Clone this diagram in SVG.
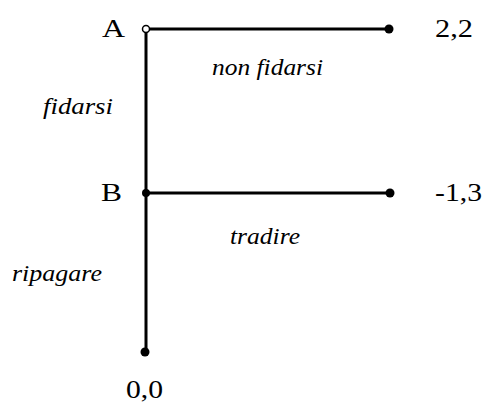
<svg xmlns="http://www.w3.org/2000/svg" width="486" height="405" viewBox="0 0 486 405">
<style>
text{font-family:"Liberation Serif","DejaVu Serif",serif;fill:#000}
.lbl{font-size:26px}
.mv{font-size:24px;font-style:italic}
.e{stroke:#000;stroke-width:3;fill:none}
</style>
<rect width="486" height="405" fill="#fff"/>
<g id="connectors">
<line class="e" x1="146" y1="29" x2="146" y2="352"/>
<line class="e" x1="146" y1="29" x2="389" y2="29"/>
<line class="e" x1="146" y1="193" x2="390" y2="193" stroke-width="2.5"/>
<text class="mv" font-family="Liberation Serif, DejaVu Serif, serif" x="212" y="75" textLength="111" lengthAdjust="spacingAndGlyphs">non fidarsi</text>
<text class="mv" font-family="Liberation Serif, DejaVu Serif, serif" x="43" y="114" textLength="70" lengthAdjust="spacingAndGlyphs">fidarsi</text>
<text class="mv" font-family="Liberation Serif, DejaVu Serif, serif" x="230" y="244" textLength="70" lengthAdjust="spacingAndGlyphs">tradire</text>
<text class="mv" font-family="Liberation Serif, DejaVu Serif, serif" x="12" y="281" textLength="90" lengthAdjust="spacingAndGlyphs">ripagare</text>
</g>
<g id="A"><circle cx="146" cy="29" r="3.5" fill="#fff" stroke="#000" stroke-width="1.5"/><text class="lbl" font-family="Liberation Serif, DejaVu Serif, serif" x="102" y="37" textLength="23" lengthAdjust="spacingAndGlyphs">A</text></g>
<g id="B"><circle cx="146" cy="193" r="4" fill="#000"/><text class="lbl" font-family="Liberation Serif, DejaVu Serif, serif" x="101" y="201" textLength="21" lengthAdjust="spacingAndGlyphs">B</text></g>
<g id="t1"><circle cx="389" cy="29" r="4.5" fill="#000"/><text class="lbl" font-family="Liberation Serif, DejaVu Serif, serif" x="435" y="37" textLength="38" lengthAdjust="spacingAndGlyphs">2,2</text></g>
<g id="t2"><circle cx="390" cy="193" r="4.5" fill="#000"/><text class="lbl" font-family="Liberation Serif, DejaVu Serif, serif" x="435" y="201" textLength="47" lengthAdjust="spacingAndGlyphs">-1,3</text></g>
<g id="t3"><circle cx="145" cy="352" r="4.5" fill="#000"/><text class="lbl" font-family="Liberation Serif, DejaVu Serif, serif" x="126" y="398" textLength="37" lengthAdjust="spacingAndGlyphs">0,0</text></g>
</svg>
